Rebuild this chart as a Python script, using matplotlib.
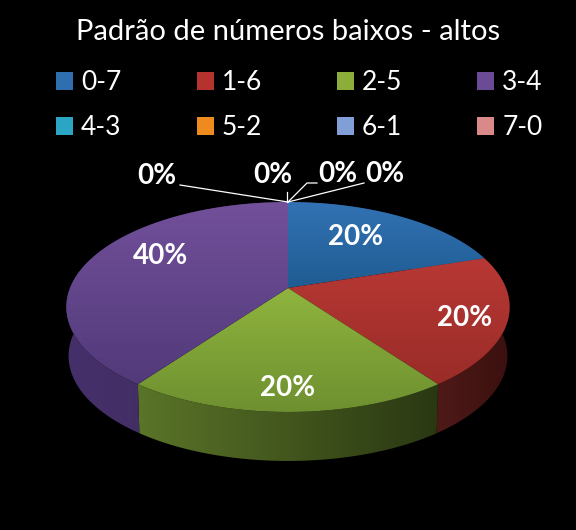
import numpy as np
import matplotlib
matplotlib.use("Agg")
import matplotlib.pyplot as plt
from matplotlib.patches import Polygon, Patch
from matplotlib.colors import LinearSegmentedColormap

title = "Padrão de números baixos - altos"
categories = ["0-7", "1-6", "2-5", "3-4", "4-3", "5-2", "6-1", "7-0"]
shares = [20, 20, 20, 40, 0, 0, 0, 0]
legend_colors = ["#2f6fb0", "#b5322e", "#8cad3a", "#6b4a96", "#2aa5c4", "#ef8a1e", "#7f9fd6", "#d98a88"]
top_light = ["#3272b4", "#b83834", "#90b43e", "#72509a"]
top_dark = ["#1f5c92", "#9a2c28", "#6e9030", "#523a7a"]
side_left = ["#1a3f66", "#4e1a18", "#5a7428", "#46306a"]
side_right = ["#1a3f66", "#3a100e", "#2a3812", "#3c2a5c"]
label_xy = [(356, 237), (465, 318), (288, 388), (161, 256), (385, 174), (338, 174), (273, 175), (157, 176)]
leader_paths = [None, None, None, None,
                [(364, 183), (288, 202)],
                [(317, 183), (307, 183), (288, 202)],
                [(287, 192), (287, 202)],
                [(180, 185), (288, 202)]]

plt.rcParams["font.family"] = ["Lato", "DejaVu Sans"]
fig = plt.figure(figsize=(5.76, 5.30), dpi=100, facecolor="black")
ax = fig.add_axes([0, 0, 1, 1])
ax.set_xlim(0, 576)
ax.set_ylim(530, 0)
ax.axis("off")

CX, CY, R, K, A = 288.0, 288.0, 218.0, 0.181, -49.4


def project(theta, radius=1.0, dy=0.0, sx=1.0):
    u = radius * np.sin(theta)
    v = radius * np.cos(theta)
    w = 1 + K * v
    return CX + sx * R * u / w, (A * v + CY) / w + dy


def gradient(poly, c0, c1, horizontal, z):
    pts = poly.get_xy()
    x0, x1, y0, y1 = pts[:, 0].min(), pts[:, 0].max(), pts[:, 1].min(), pts[:, 1].max()
    cmap = LinearSegmentedColormap.from_list("g", [c0, c1])
    g = np.linspace(0, 1, 128)
    g = g[None, :] if horizontal else g[:, None]
    im = ax.imshow(g, cmap=cmap, extent=(x0, x1, y1, y0), aspect="auto", zorder=z, interpolation="bilinear")
    poly.set(facecolor="none", edgecolor="none", transform=ax.transData)
    ax.add_patch(poly)
    im.set_clip_path(poly)


edges = np.radians(np.cumsum([0] + shares) * 3.6)
slices = [(i, edges[i], edges[i + 1]) for i in range(len(shares)) if shares[i] > 0]

for i, a0, a1 in slices:
    t = np.linspace(a0, a1, 120)
    xt, yt = project(t)
    xb, yb = project(t, dy=49, sx=0.99)
    side = Polygon(np.r_[np.c_[xt, yt], np.c_[xb, yb][::-1]], closed=True)
    gradient(side, side_left[i], side_right[i], True, 2)

for i, a0, a1 in slices:
    t = np.linspace(a0, a1, 160)
    xt, yt = project(t)
    top = Polygon(np.r_[[[CX, CY]], np.c_[xt, yt]], closed=True)
    gradient(top, top_light[i], top_dark[i], False, 3)

ax.set_xlim(0, 576)
ax.set_ylim(530, 0)

for path in leader_paths:
    if path:
        ax.plot(*zip(*path), color="white", lw=0.9, zorder=4)

for val, (x, y) in zip(shares, label_xy):
    ax.text(x, y, f"{val}%", color="white", fontsize=20, fontweight="bold",
            ha="center", va="center", zorder=5)

ax.text(288, 32, title, color="white", fontsize=21, ha="center", va="center")

handles = [Patch(facecolor=c, edgecolor="none") for c in legend_colors]
order = [0, 4, 1, 5, 2, 6, 3, 7]
leg = ax.legend([handles[i] for i in order], [categories[i] for i in order],
                ncol=4, loc="upper left", bbox_to_anchor=(56 / 576, 1 - 70 / 530),
                frameon=False, fontsize=19, labelcolor="white", handlelength=0.65,
                handleheight=0.65, handletextpad=0.3, columnspacing=2.84,
                labelspacing=0.76, borderpad=0, borderaxespad=0)

fig.savefig("out.png", dpi=100, facecolor="black")
